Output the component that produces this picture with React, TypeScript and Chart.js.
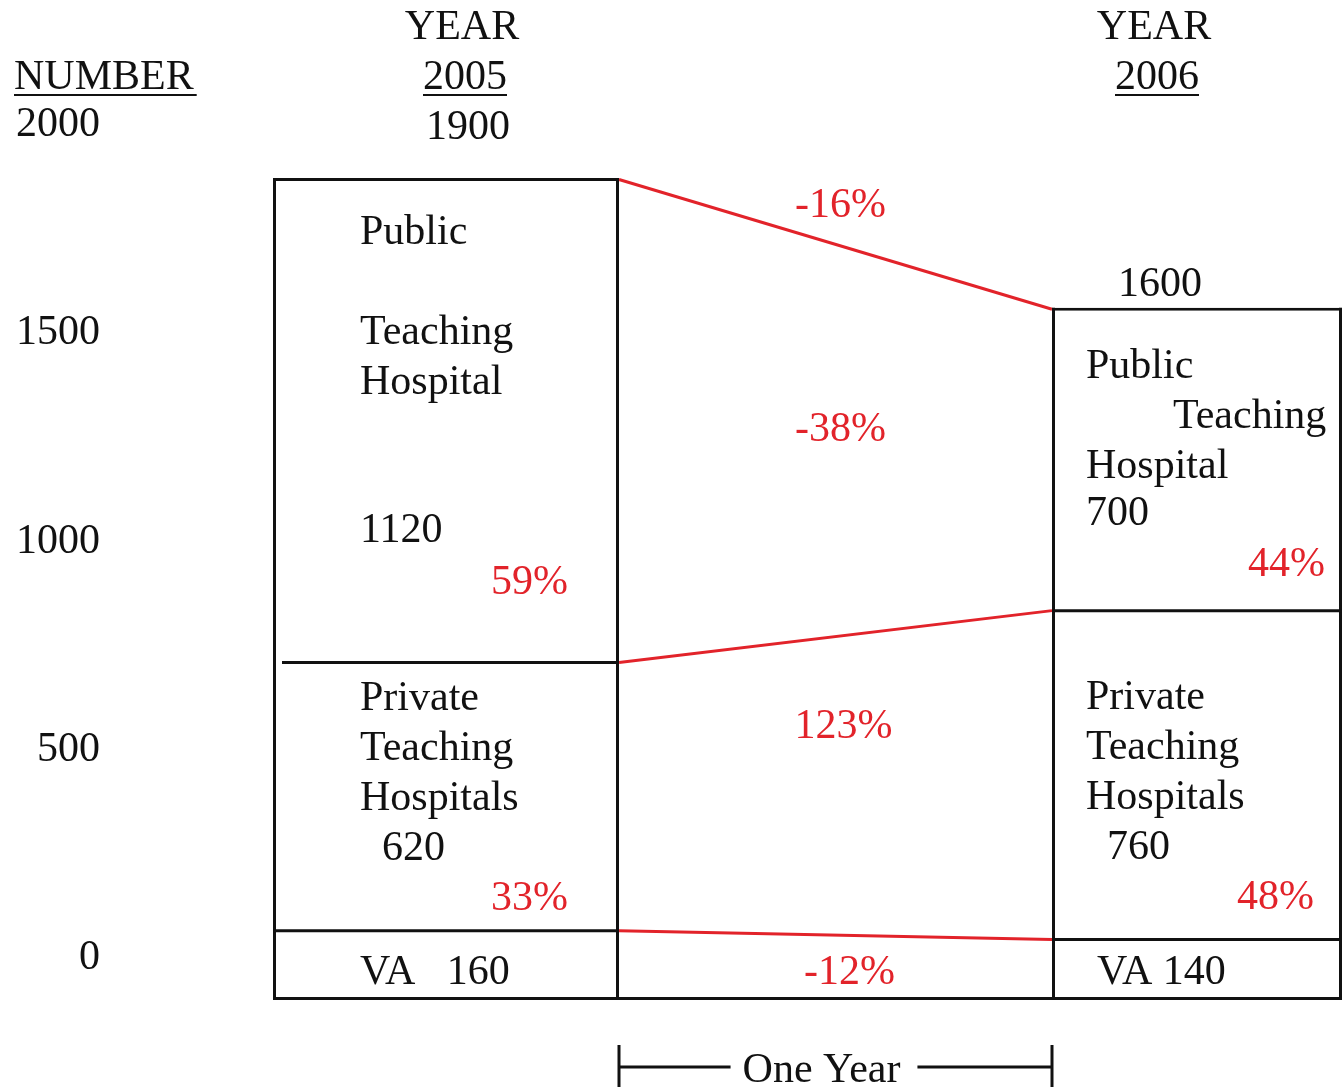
import React, { useEffect, useRef } from 'react';
import { Chart, registerables } from 'chart.js';

Chart.register(...registerables);

// ---------------- data ----------------
const years = ['2005', '2006'];
const vaValues = [160, 140];
const privateValues = [620, 760];
const publicValues = [1120, 700];
const totals = [1900, 1600];
const publicShare = ['59%', '44%'];
const privateShare = ['33%', '48%'];
const changeLabels = { total: '-16%', public: '-38%', private: '123%', va: '-12%' };
const axisTickValues = [0, 500, 1000, 1500, 2000];
const publicNameLines = ['Public', 'Teaching', 'Hospital'];
const privateNameLines = ['Private', 'Teaching', 'Hospitals'];
const vaNames = ['VA   160', 'VA 140'];
const headerTitle = 'YEAR';
const axisTitle = 'NUMBER';
const spanLabel = 'One Year';

// ---------------- layout / style ----------------
const W = 1343;
const H = 1091;
const AREA = { left: 446, right: 1197, top: 100, bottom: 1000 };
const BAR_WIDTHS = [346, 290];
const BAR_TOP_PX = 178; // where the 2005 total lands
const LABEL_ZERO_PX = 958;
const LABEL_TOP_TICK_PX = 125;
const LABEL_PX_PER_UNIT = (LABEL_ZERO_PX - LABEL_TOP_TICK_PX) / 2000;
const LABEL_RIGHT_PX = 100;
const RED = '#e2232a';
const BLACK = '#111111';
const FONT_SIZE = 42;
const FONT_FAMILY = '"Liberation Serif", "Times New Roman", serif';
const FONT = `${FONT_SIZE}px ${FONT_FAMILY}`;
const TEXT_DY = 3;
const LINE_W = 3;

const yMax = totals[0] * (AREA.bottom - AREA.top) / (AREA.bottom - BAR_TOP_PX);
const ylMin = -(AREA.bottom - LABEL_ZERO_PX) / LABEL_PX_PER_UNIT;
const ylMax = (LABEL_ZERO_PX - AREA.top) / LABEL_PX_PER_UNIT;

const segmentSeries = [
  { name: 'VA', values: vaValues },
  { name: 'Private Teaching Hospitals', values: privateValues },
  { name: 'Public Teaching Hospital', values: publicValues },
];

// outer top/bottom edges from the bar border; sides and inner boundaries stroked by the plugin
const borderBySegment = [
  { top: 0, bottom: LINE_W, left: 0, right: 0 },
  { top: 0, bottom: 0, left: 0, right: 0 },
  { top: LINE_W, bottom: 0, left: 0, right: 0 },
];

const datasets: any[] = [];
years.forEach((_, j) => {
  segmentSeries.forEach((s, k) => {
    datasets.push({
      label: `${s.name} ${years[j]}`,
      data: years.map((__, i) => (i === j ? s.values[i] : null)),
      backgroundColor: '#ffffff',
      borderColor: BLACK,
      borderWidth: borderBySegment[k],
      borderSkipped: false,
      barThickness: BAR_WIDTHS[j],
      grouped: false,
      clip: false,
      stack: 'all',
      xAxisID: 'x',
      yAxisID: 'y',
      inflateAmount: 0,
    });
  });
});

function seg(chart: any, year: number, segment: number): any {
  return chart.getDatasetMeta(year * 3 + segment).data[year];
}

function text(ctx: CanvasRenderingContext2D, str: string, x: number, y: number, color = BLACK, align: CanvasTextAlign = 'left') {
  ctx.fillStyle = color;
  ctx.textAlign = align;
  ctx.fillText(str, x, y + TEXT_DY);
}

function line(ctx: CanvasRenderingContext2D, x1: number, y1: number, x2: number, y2: number) {
  ctx.beginPath();
  ctx.moveTo(x1, y1);
  ctx.lineTo(x2, y2);
  ctx.stroke();
}

const diagramPlugin = {
  id: 'diagram',
  beforeDatasetsDraw(chart: any) {
    const ctx: CanvasRenderingContext2D = chart.ctx;
    const a = seg(chart, 0, 0);
    const b = seg(chart, 1, 0);
    const x1 = a.x + a.width / 2;
    const x2 = b.x - b.width / 2;
    ctx.save();
    ctx.lineCap = 'butt';
    ctx.lineWidth = LINE_W;
    ctx.strokeStyle = BLACK;
    line(ctx, x1, a.base - LINE_W / 2, x2, b.base - LINE_W / 2);
    ctx.strokeStyle = RED;
    for (let k = 0; k < 3; k++) {
      const ya = seg(chart, 0, k).y + (k === 2 ? LINE_W / 2 : 0);
      const yb = seg(chart, 1, k).y + (k === 2 ? LINE_W / 2 : 0);
      line(ctx, x1, ya, x2, yb);
    }
    ctx.restore();
  },
  afterDatasetsDraw(chart: any) {
    const ctx: CanvasRenderingContext2D = chart.ctx;
    ctx.save();

    // bar sides and inner segment boundaries
    ctx.strokeStyle = BLACK;
    ctx.lineWidth = LINE_W;
    ctx.lineCap = 'butt';
    const leftInset = [[0, 9], [0, 0]];
    years.forEach((_, j) => {
      const top = seg(chart, j, 2);
      const bottom = seg(chart, j, 0);
      const L = top.x - top.width / 2;
      const R = top.x + top.width / 2;
      line(ctx, L + LINE_W / 2, top.y, L + LINE_W / 2, bottom.base);
      line(ctx, R - LINE_W / 2, top.y, R - LINE_W / 2, bottom.base);
      for (let k = 0; k < 2; k++) {
        const e = seg(chart, j, k);
        line(ctx, L + leftInset[j][k], e.y, R, e.y);
      }
    });

    ctx.font = FONT;
    ctx.textBaseline = 'middle';

    // header
    text(ctx, axisTitle, 14, 75);
    const nw = ctx.measureText(axisTitle).width;
    ctx.fillStyle = BLACK;
    ctx.fillRect(14, 94, nw + 3, 2);
    const headerDx = [19, -40];
    years.forEach((yr, j) => {
      const bar = seg(chart, j, 2);
      const cx = bar.x + headerDx[j];
      text(ctx, headerTitle, cx - 3, 25, BLACK, 'center');
      text(ctx, yr, cx, 75, BLACK, 'center');
      const w = ctx.measureText(yr).width;
      ctx.fillStyle = BLACK;
      ctx.fillRect(cx - w / 2, 94, w, 2);
    });

    // totals
    const totalDy = [-53, -26];
    const totalDx = [22, -37];
    years.forEach((_, j) => {
      const bar = seg(chart, j, 2);
      text(ctx, String(totals[j]), bar.x + totalDx[j], bar.y + totalDy[j], BLACK, 'center');
    });

    // 2005 texts
    {
      const pub = seg(chart, 0, 2);
      const L = pub.x - pub.width / 2;
      const R = pub.x + pub.width / 2;
      let cy = (pub.y + pub.base) / 2;
      text(ctx, publicNameLines[0], L + 87, cy - 190);
      text(ctx, publicNameLines[1], L + 87, cy - 90);
      text(ctx, publicNameLines[2], L + 87, cy - 40);
      text(ctx, String(publicValues[0]), L + 87, cy + 108);
      text(ctx, publicShare[0], R - 51, cy + 160, RED, 'right');

      const pri = seg(chart, 0, 1);
      cy = (pri.y + pri.base) / 2;
      text(ctx, privateNameLines[0], L + 87, cy - 101);
      text(ctx, privateNameLines[1], L + 87, cy - 51);
      text(ctx, privateNameLines[2], L + 87, cy - 1);
      text(ctx, String(privateValues[0]), L + 109, cy + 49);
      text(ctx, privateShare[0], R - 51, cy + 99, RED, 'right');

      const va = seg(chart, 0, 0);
      text(ctx, vaNames[0], L + 87, va.base - 30);
    }

    // 2006 texts
    {
      const pub = seg(chart, 1, 2);
      const L = pub.x - pub.width / 2;
      const R = pub.x + pub.width / 2;
      let cy = (pub.y + pub.base) / 2;
      text(ctx, publicNameLines[0], L + 34, cy - 95);
      text(ctx, publicNameLines[1], L + 121, cy - 45);
      text(ctx, publicNameLines[2], L + 34, cy + 5);
      text(ctx, String(publicValues[1]), L + 34, cy + 52);
      text(ctx, publicShare[1], R - 17, cy + 103, RED, 'right');

      const pri = seg(chart, 1, 1);
      cy = (pri.y + pri.base) / 2;
      text(ctx, privateNameLines[0], L + 34, cy - 80);
      text(ctx, privateNameLines[1], L + 34, cy - 30);
      text(ctx, privateNameLines[2], L + 34, cy + 20);
      text(ctx, String(privateValues[1]), L + 55, cy + 70);
      text(ctx, privateShare[1], R - 28, cy + 120, RED, 'right');

      const va = seg(chart, 1, 0);
      text(ctx, vaNames[1], L + 45, va.base - 30);
    }

    // middle change labels
    const a0 = seg(chart, 0, 0), a1 = seg(chart, 0, 1), a2 = seg(chart, 0, 2);
    const b0 = seg(chart, 1, 0), b1 = seg(chart, 1, 1), b2 = seg(chart, 1, 2);
    const x1 = a0.x + a0.width / 2;
    const x2 = b0.x - b0.width / 2;
    const mx = (x1 + x2) / 2;
    const topMid = (a2.y + b2.y) / 2;
    const pubMid = (a1.y + b1.y) / 2;
    const vaMid = (a0.y + b0.y) / 2;
    text(ctx, changeLabels.total, mx + 5, topMid - 40, RED, 'center');
    text(ctx, changeLabels.public, mx + 5, (topMid + pubMid) / 2 - 13, RED, 'center');
    text(ctx, changeLabels.private, mx + 8, (pubMid + vaMid) / 2 - 62, RED, 'center');
    text(ctx, changeLabels.va, mx + 14, a0.base - 30, RED, 'center');

    // one-year bracket
    const by = 1067;
    ctx.strokeStyle = BLACK;
    ctx.lineWidth = LINE_W;
    line(ctx, x1, by - 22, x1, by + 20);
    line(ctx, x2, by - 22, x2, by + 20);
    const tw = ctx.measureText(spanLabel).width;
    const tcx = mx - 14;
    line(ctx, x1, by, tcx - tw / 2 - 12, by);
    line(ctx, tcx + tw / 2 + 17, by, x2, by);
    text(ctx, spanLabel, tcx, by + 1, BLACK, 'center');

    ctx.restore();
  },
};

export default function App() {
  const ref = useRef<HTMLCanvasElement>(null);
  useEffect(() => {
    document.body.style.margin = '0';
    document.body.style.overflow = 'hidden';
    const chart = new Chart(ref.current as HTMLCanvasElement, {
      type: 'bar',
      data: { labels: years, datasets },
      plugins: [diagramPlugin],
      options: {
        animation: false,
        responsive: false,
        devicePixelRatio: 1,
        layout: {
          padding: { left: 0, right: W - AREA.right, top: AREA.top, bottom: H - AREA.bottom },
        },
        plugins: { legend: { display: false }, tooltip: { enabled: false } },
        scales: {
          x: {
            type: 'category',
            offset: false,
            stacked: true,
            display: false,
          },
          y: {
            type: 'linear',
            stacked: true,
            min: 0,
            max: yMax,
            display: false,
          },
          yl: {
            type: 'linear',
            position: 'left',
            min: ylMin,
            max: ylMax,
            grid: { display: false, drawTicks: false },
            border: { display: false },
            ticks: {
              padding: AREA.left - LABEL_RIGHT_PX,
              color: BLACK,
              font: { family: FONT_FAMILY, size: FONT_SIZE },
              includeBounds: false,
              callback: (v: any) => String(v),
            },
            afterBuildTicks: (scale: any) => {
              scale.ticks = axisTickValues.map((v) => ({ value: v }));
            },
            afterFit: (scale: any) => {
              scale.width = AREA.left;
              scale.paddingTop = 0;
              scale.paddingBottom = 0;
            },
          },
        },
      } as any,
    });
    return () => chart.destroy();
  }, []);
  return (
    <div style={{ width: W, height: H }}>
      <canvas ref={ref} width={W} height={H} style={{ display: 'block' }} />
    </div>
  );
}
